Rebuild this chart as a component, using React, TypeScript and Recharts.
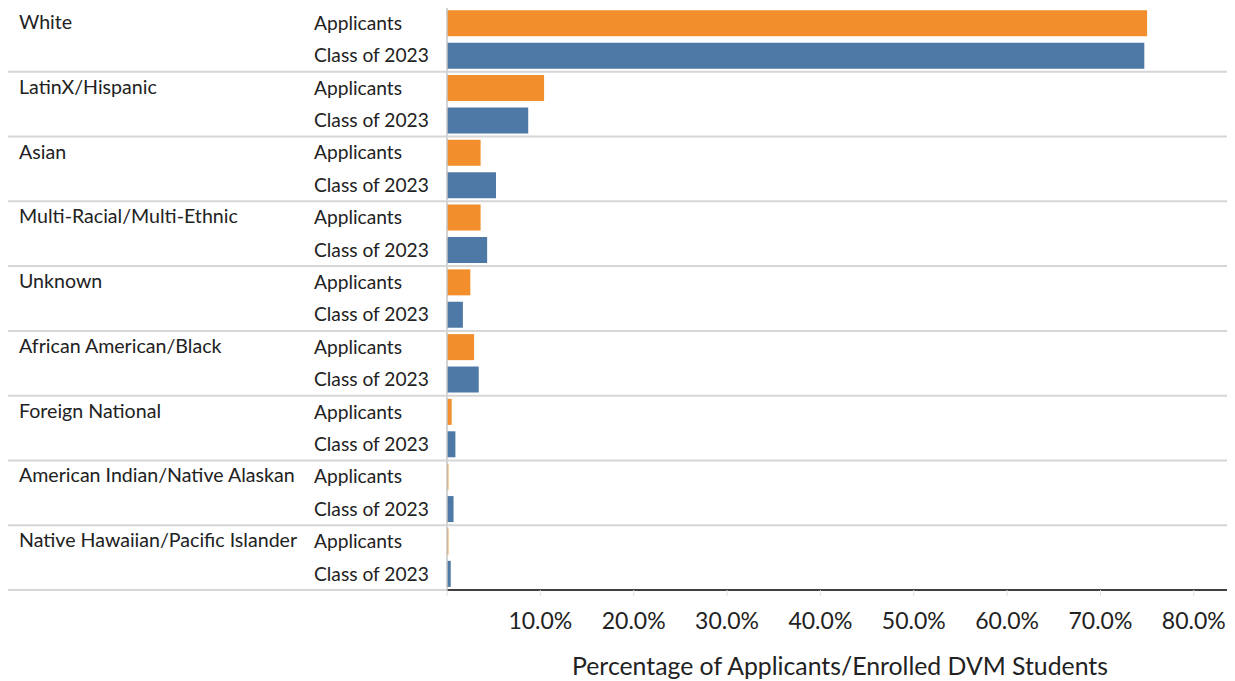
import * as React from "react";
import { BarChart, Bar, XAxis, YAxis, Cell, Label } from "recharts";

// Ethnicity groups, top to bottom
const categories = [
  "White",
  "LatinX/Hispanic",
  "Asian",
  "Multi-Racial/Multi-Ethnic",
  "Unknown",
  "African American/Black",
  "Foreign National",
  "American Indian/Native Alaskan",
  "Native Hawaiian/Pacific Islander",
];

const seriesNames = ["Applicants", "Class of 2023"];

// Share of each group (fraction of total)
const applicants = [0.75, 0.104, 0.036, 0.036, 0.025, 0.029, 0.005, 0.0015, 0.0015];
const classOf2023 = [0.747, 0.087, 0.0525, 0.043, 0.017, 0.034, 0.009, 0.007, 0.004];

const xTicks = [0, 0.1, 0.2, 0.3, 0.4, 0.5, 0.6, 0.7, 0.8];

const seriesColors = ["#F28E2B", "#4E79A7"];

const WIDTH = 1235;
const HEIGHT = 681;
const MARGIN = { top: 7, right: 2, bottom: 0, left: 0 };
const X_AXIS_HEIGHT = 91;
const Y_AXIS_WIDTH = 447;
const FONT = "Lato, 'Open Sans', sans-serif";
const TEXT = "#222";
const RULE = "#d6d6d6";

interface Row {
  key: string;
  category: string;
  series: string;
  seriesIndex: number;
  value: number;
}

const rows: Row[] = categories.flatMap((category, i) => [
  { key: `${category}|${seriesNames[0]}`, category, series: seriesNames[0], seriesIndex: 0, value: applicants[i] },
  { key: `${category}|${seriesNames[1]}`, category, series: seriesNames[1], seriesIndex: 1, value: classOf2023[i] },
]);

const bandHeight = (HEIGHT - MARGIN.top - MARGIN.bottom - X_AXIS_HEIGHT) / rows.length;

// Row header: group name on first row, series name on every row, plus separators
const RowTick = (props: any) => {
  const { y, index } = props;
  const row = rows[index];
  if (!row) return null;
  const isFirst = row.seriesIndex === 0;
  const isLast = index === rows.length - 1;
  return (
    <g>
      {isFirst && (
        <line
          x1={8}
          x2={WIDTH}
          y1={y - bandHeight / 2}
          y2={y - bandHeight / 2}
          stroke={RULE}
          strokeWidth={2}
        />
      )}
      {isLast && (
        <line
          x1={8}
          x2={Y_AXIS_WIDTH}
          y1={y + bandHeight / 2}
          y2={y + bandHeight / 2}
          stroke={RULE}
          strokeWidth={2}
        />
      )}
      {isFirst && (
        <text x={19} y={y - 1} dy="0.35em" fontSize={19.6} fontFamily={FONT} fill={TEXT}>
          {row.category}
        </text>
      )}
      <text x={314} y={y} dy="0.35em" fontSize={19.2} fontFamily={FONT} fill={TEXT}>
        {row.series}
      </text>
    </g>
  );
};

const formatPct = (v: number) => (v === 0 ? "" : `${(v * 100).toFixed(1)}%`);

export default function App() {
  return (
    <div style={{ margin: "-8px 0 0 -8px", background: "#fff" }}>
      <BarChart
        width={WIDTH}
        height={HEIGHT}
        data={rows}
        layout="vertical"
        margin={MARGIN}
        barCategoryGap="10%"
      >
        <XAxis
          type="number"
          domain={[0, 0.842]}
          ticks={xTicks}
          tickFormatter={formatPct}
          height={X_AXIS_HEIGHT}
          axisLine={{ stroke: "#000", strokeWidth: 1.5 }}
          tickLine={{ stroke: "#e0e0e0" }}
          tickSize={6}
          tickMargin={17}
          tick={{ fontSize: 23, fontFamily: FONT, fill: TEXT }}
          allowDataOverflow
        >
          <Label
            value="Percentage of Applicants/Enrolled DVM Students"
            position="insideBottom"
            offset={6}
            style={{ fontSize: 24.8, fontFamily: FONT, fill: TEXT }}
          />
        </XAxis>
        <YAxis
          type="category"
          dataKey="key"
          width={Y_AXIS_WIDTH}
          interval={0}
          tickLine={false}
          axisLine={{ stroke: "#c4c4c4", strokeWidth: 1.5 }}
          tick={<RowTick />}
        />
        <Bar dataKey="value" isAnimationActive={false}>
          {rows.map((r) => (
            <Cell key={r.key} fill={seriesColors[r.seriesIndex]} />
          ))}
        </Bar>
      </BarChart>
    </div>
  );
}
